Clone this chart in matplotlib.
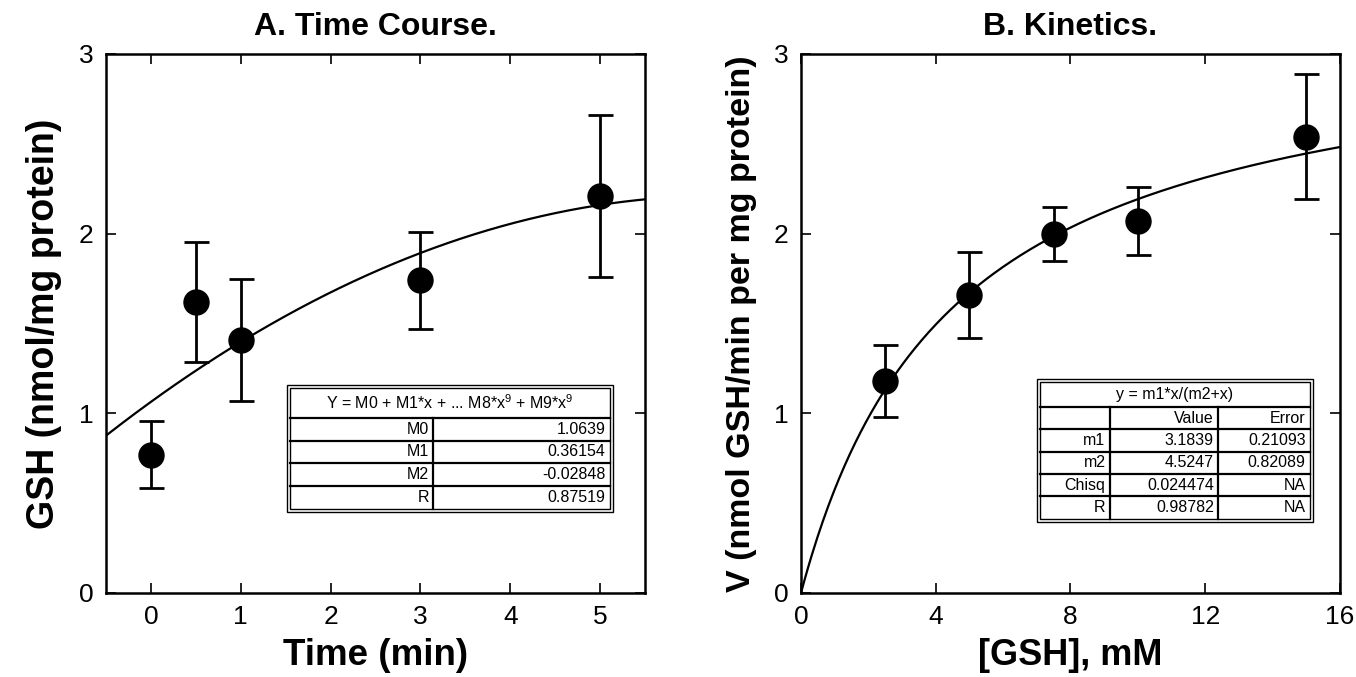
import numpy as np
import matplotlib
matplotlib.use("Agg")
import matplotlib.pyplot as plt
from matplotlib.patches import Rectangle

plt.rcParams['font.family'] = ['Liberation Sans', 'DejaVu Sans']
plt.rcParams['mathtext.fontset'] = 'custom'
plt.rcParams['mathtext.rm'] = 'Liberation Sans'
plt.rcParams['mathtext.it'] = 'Liberation Sans'

# ---- data: panel A (time course) ----
time_min = [0, 0.5, 1, 3, 5]
gsh_a = [0.77, 1.62, 1.41, 1.74, 2.21]
err_a = [0.185, 0.335, 0.34, 0.27, 0.45]
poly_coef = [1.0639, 0.36154, -0.02848]   # M0, M1, M2
table_a_header = "Y = M0 + M1*x + ... M8*x$^9$ + M9*x$^9$"
table_a_rows = [["M0", "1.0639"], ["M1", "0.36154"], ["M2", "-0.02848"], ["R", "0.87519"]]

# ---- data: panel B (kinetics) ----
gsh_mm = [2.5, 5, 7.5, 10, 15]
rate_b = [1.18, 1.66, 2.00, 2.07, 2.54]
err_b = [0.20, 0.24, 0.15, 0.19, 0.35]
m1, m2 = 3.1839, 4.5247
table_b_header = "y = m1*x/(m2+x)"
table_b_rows = [["", "Value", "Error"], ["m1", "3.1839", "0.21093"], ["m2", "4.5247", "0.82089"],
                ["Chisq", "0.024474", "NA"], ["R", "0.98782", "NA"]]


def draw_table(ax, x0, x1, y0, y1, header_bot, cols, header, rows, fs=11.5):
    """boxed fit-result table drawn in axes fraction coords"""
    g = 0.006
    ax.add_patch(Rectangle((x0, y0), x1 - x0, y1 - y0, transform=ax.transAxes,
                           fc='white', ec='black', lw=1.0, zorder=5))
    ax.add_patch(Rectangle((x0 + g, y0 + g), x1 - x0 - 2 * g, y1 - y0 - 2 * g,
                           transform=ax.transAxes, fc='none', ec='black', lw=1.0, zorder=6))
    xi0, xi1, yi0 = x0 + g, x1 - g, y0 + g
    ax.plot([xi0, xi1], [header_bot, header_bot], transform=ax.transAxes,
            color='black', lw=1.6, zorder=6)
    ax.text((x0 + x1) / 2, (header_bot + y1 - g) / 2, header, transform=ax.transAxes,
            ha='center', va='center', fontsize=fs, zorder=7)
    n = len(rows)
    rh = (header_bot - yi0) / n
    for i in range(1, n):
        yy = header_bot - i * rh
        ax.plot([xi0, xi1], [yy, yy], transform=ax.transAxes, color='black', lw=1.6, zorder=6)
    for c in cols:
        ax.plot([c, c], [yi0, header_bot], transform=ax.transAxes, color='black', lw=1.6, zorder=6)
    edges = [xi0] + list(cols) + [xi1]
    for i, row in enumerate(rows):
        yc = header_bot - (i + 0.5) * rh
        for j, txt in enumerate(row):
            ax.text(edges[j + 1] - 0.008, yc, txt, transform=ax.transAxes,
                    ha='right', va='center', fontsize=fs, zorder=7)


def style_axes(ax):
    ax.tick_params(direction='in', length=7, width=1.2, top=True, right=True,
                   labelsize=19, pad=9)
    for s in ax.spines.values():
        s.set_linewidth(1.8)


fig = plt.figure(figsize=(13.56, 6.77), dpi=100)
ax1 = fig.add_axes([0.0782, 0.1241, 0.3975, 0.7962])
ax2 = fig.add_axes([0.5907, 0.1241, 0.3975, 0.7962])

# panel A
xa = np.linspace(-0.5, 5.5, 200)
ya = poly_coef[0] + poly_coef[1] * xa + poly_coef[2] * xa ** 2
ax1.plot(xa, ya, color='black', lw=1.6)
ax1.errorbar(time_min, gsh_a, yerr=err_a, fmt='o', color='black', ms=18,
             elinewidth=2, capsize=9, capthick=2)
ax1.set_xlim(-0.5, 5.5)
ax1.set_ylim(0, 3)
ax1.set_xticks([0, 1, 2, 3, 4, 5])
ax1.set_yticks([0, 1, 2, 3])
style_axes(ax1)
ax1.set_xlabel("Time (min)", fontsize=26.5, fontweight='bold', labelpad=6)
ax1.set_ylabel("GSH (nmol/mg protein)", fontsize=27, fontweight='bold', labelpad=12)
ax1.set_title("A. Time Course.", fontsize=23, fontweight='bold', pad=14)
draw_table(ax1, 0.336, 0.941, 0.150, 0.386, 0.325, [0.607], table_a_header, table_a_rows)

# panel B
xb = np.linspace(0, 16, 300)
yb = m1 * xb / (m2 + xb)
ax2.plot(xb, yb, color='black', lw=1.6)
ax2.errorbar(gsh_mm, rate_b, yerr=err_b, fmt='o', color='black', ms=18,
             elinewidth=2, capsize=9, capthick=2)
ax2.set_xlim(0, 16)
ax2.set_ylim(0, 3)
ax2.set_xticks([0, 4, 8, 12, 16])
ax2.set_yticks([0, 1, 2, 3])
style_axes(ax2)
ax2.set_xlabel("[GSH], mM", fontsize=26, fontweight='bold', labelpad=6)
ax2.set_ylabel("V (nmol GSH/min per mg protein)", fontsize=24.5, fontweight='bold', labelpad=12)
ax2.set_title("B. Kinetics.", fontsize=23, fontweight='bold', pad=14)
draw_table(ax2, 0.438, 0.950, 0.132, 0.397, 0.345, [0.573, 0.774], table_b_header, table_b_rows)

fig.savefig("out.png", dpi=100)
